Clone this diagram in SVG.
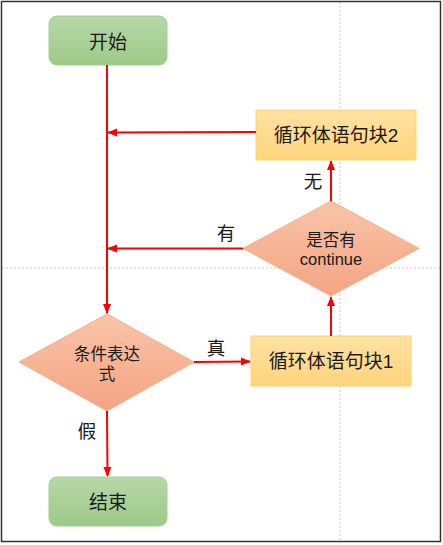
<svg xmlns="http://www.w3.org/2000/svg" width="443" height="545" viewBox="0 0 443 545">
<defs>
<linearGradient id="gG" x1="0" y1="0" x2="0" y2="1"><stop offset="0" stop-color="#b7d7a8"/><stop offset="1" stop-color="#9ccb86"/></linearGradient>
<linearGradient id="gY" x1="0" y1="0" x2="0" y2="1"><stop offset="0" stop-color="#ffe2a3"/><stop offset="1" stop-color="#ffd47c"/></linearGradient>
<linearGradient id="gO" x1="0" y1="0" x2="0" y2="1"><stop offset="0" stop-color="#f9c4a8"/><stop offset="1" stop-color="#f4a482"/></linearGradient>
<marker id="ah" viewBox="0 0 10 10" refX="9" refY="5" markerWidth="5" markerHeight="5" orient="auto" markerUnits="strokeWidth"><path d="M0,1 L10,5 L0,9 z" fill="#ff0000"/></marker>
<style>
.term{fill:url(#gG);stroke:#a3d08f;stroke-width:1}
.blk{fill:url(#gY);stroke:#ffd36b;stroke-width:1}
.dia{fill:url(#gO);stroke:#f4b08a;stroke-width:1}
.t{font-family:"Liberation Sans","Noto Sans CJK SC",sans-serif;fill:#1a1a1a;text-anchor:middle}
.big{font-size:19px}
.lbl{font-size:18.5px}
.sm{font-size:16.5px}
.c{stroke:#ff0000;stroke-width:2;fill:none;marker-end:url(#ah)}
.guide{stroke:#c8c8c8;stroke-width:1;stroke-dasharray:2 2}
</style>
</defs>
<rect x="0" y="0" width="443" height="545" fill="#ffffff"/>
<line class="guide" x1="340" y1="2" x2="340" y2="541"/>
<line class="guide" x1="2" y1="268" x2="441" y2="268"/>
<g id="start"><rect class="term" x="49" y="16" width="118" height="49" rx="8"/><text class="t big" x="108" y="49">开始</text></g>
<g id="block2"><rect class="blk" x="256" y="110" width="160" height="50"/><text class="t big" x="336" y="142">循环体语句块2</text></g>
<g id="check"><polygon class="dia" points="331,201 419,248.5 331,296 243,248.5"/><text class="t sm" x="331" y="246">是否有</text><text class="t sm" x="331" y="265">continue</text></g>
<g id="cond"><polygon class="dia" points="107,314 194,362 107,411 19,362"/><text class="t sm" x="107" y="360">条件表达</text><text class="t sm" x="107" y="380">式</text></g>
<g id="block1"><rect class="blk" x="251" y="336" width="160" height="50"/><text class="t big" x="331" y="368">循环体语句块1</text></g>
<g id="end"><rect class="term" x="49" y="477" width="118" height="49" rx="8"/><text class="t big" x="108" y="509">结束</text></g>
<g id="connectors">
<line class="c" x1="107" y1="65" x2="107" y2="313"/>
<line class="c" x1="256" y1="132" x2="108" y2="132.5"/>
<line class="c" x1="243" y1="248.5" x2="108" y2="248.5"/>
<line class="c" x1="331" y1="201" x2="331" y2="161"/>
<line class="c" x1="331" y1="336" x2="331" y2="297"/>
<line class="c" x1="194" y1="362" x2="250" y2="361.5"/>
<line class="c" x1="107" y1="411" x2="107.5" y2="476"/>
<text class="t lbl" x="313" y="188">无</text>
<text class="t lbl" x="226" y="240">有</text>
<text class="t lbl" x="216" y="355">真</text>
<text class="t lbl" x="87" y="438">假</text>
</g>
<rect x="1.5" y="1.5" width="439" height="540" fill="none" stroke="#333333" stroke-width="1.5"/>
</svg>
